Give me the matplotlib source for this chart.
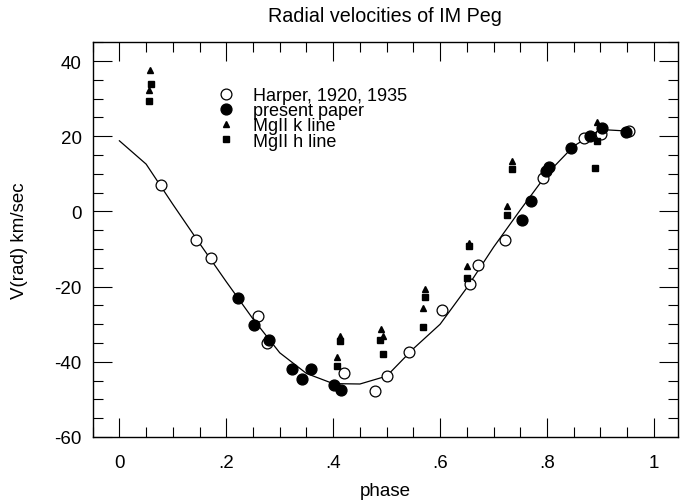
import matplotlib
matplotlib.use("Agg")
import matplotlib.pyplot as plt
from matplotlib.ticker import MultipleLocator, FixedLocator, FixedFormatter

plt.rcParams['font.family'] = ['Liberation Sans', 'DejaVu Sans']
plt.rcParams['axes.unicode_minus'] = False

# Harper, 1920, 1935 (open circles)
harper_phase = [0.078, 0.143, 0.172, 0.259, 0.277, 0.420, 0.479, 0.500, 0.542,
                0.603, 0.655, 0.671, 0.721, 0.793, 0.869, 0.901, 0.954]
harper_v = [7.0, -7.6, -12.3, -27.8, -35.0, -42.9, -47.8, -43.9, -37.3,
            -26.1, -19.4, -14.3, -7.6, 8.9, 19.5, 20.6, 21.3]

# present paper (filled circles)
present_phase = [0.221, 0.252, 0.280, 0.322, 0.359, 0.342, 0.401, 0.414,
                 0.753, 0.770, 0.798, 0.803, 0.845, 0.880, 0.903, 0.947]
present_v = [-23.0, -30.3, -34.1, -41.8, -41.8, -44.7, -46.2, -47.4,
             -2.3, 2.7, 10.8, 11.7, 16.9, 20.1, 22.2, 21.2]

# MgII k line (triangles)
mgk_phase = [0.057, 0.055, 0.412, 0.408, 0.490, 0.493, 0.572, 0.568,
             0.654, 0.651, 0.735, 0.726, 0.893]
mgk_v = [37.7, 32.4, -33.2, -38.8, -31.2, -33.2, -20.7, -25.8,
         -8.5, -14.5, 13.5, 1.5, 23.7]

# MgII h line (squares)
mgh_phase = [0.059, 0.055, 0.412, 0.408, 0.488, 0.493, 0.572, 0.568,
             0.654, 0.651, 0.735, 0.726, 0.893, 0.889]
mgh_v = [33.8, 29.5, -34.5, -41.0, -34.2, -37.9, -22.8, -30.8,
         -9.2, -17.8, 11.3, -1.0, 18.7, 11.5]

# fitted curve
curve_phase = [0.00, 0.05, 0.10, 0.15, 0.20, 0.25, 0.30, 0.35, 0.40, 0.45,
               0.50, 0.55, 0.60, 0.65, 0.70, 0.75, 0.80, 0.85, 0.90, 0.95]
curve_v = [18.8, 12.6, 1.9, -8.5, -18.7, -28.6, -37.6, -43.1, -45.8, -45.9,
           -43.8, -36.5, -30.0, -20.3, -9.5, 0.4, 10.0, 17.4, 21.8, 21.4]

xtick_vals = [0, 0.2, 0.4, 0.6, 0.8, 1.0]
xtick_labels = ["0", ".2", ".4", ".6", ".8", "1"]
ytick_vals = [-60, -40, -20, 0, 20, 40]
ytick_labels = ["-60", "-40", "-20", "0", "20", "40"]

fig = plt.figure(figsize=(6.89, 5.02), dpi=100)
ax = fig.add_axes([0.1345, 0.1275, 0.8495, 0.7862])

ax.plot(curve_phase, curve_v, color='black', lw=0.9, zorder=1)
ax.plot(harper_phase, harper_v, 'o', ms=7.8, mfc='white', mec='black', mew=0.9,
        ls='none', label='Harper, 1920, 1935', zorder=2)
ax.plot(present_phase, present_v, 'o', ms=7.8, mfc='black', mec='black',
        ls='none', label='present paper', zorder=3)
ax.plot(mgk_phase, mgk_v, '^', ms=4.5, color='black', ls='none',
        label='MgII k line', zorder=4)
ax.plot(mgh_phase, mgh_v, 's', ms=4.2, color='black', ls='none',
        label='MgII h line', zorder=4)

ax.set_xlim(-0.05, 1.045)
ax.set_ylim(-60, 45)

ax.xaxis.set_major_locator(FixedLocator(xtick_vals))
ax.xaxis.set_major_formatter(FixedFormatter(xtick_labels))
ax.xaxis.set_minor_locator(MultipleLocator(0.05))
ax.yaxis.set_major_locator(FixedLocator(ytick_vals))
ax.yaxis.set_major_formatter(FixedFormatter(ytick_labels))
ax.yaxis.set_minor_locator(MultipleLocator(5))

ax.tick_params(which='both', direction='in', top=True, right=True,
               labelsize=13.5, width=0.8)
ax.tick_params(which='major', length=14)
ax.tick_params(axis='x', which='major', pad=12)
ax.tick_params(axis='y', which='major', pad=8)
ax.tick_params(which='minor', length=7)
for s in ax.spines.values():
    s.set_linewidth(1.0)

ax.set_title('Radial velocities of IM Peg', fontsize=14.2, pad=15)
ax.set_xlabel('phase', fontsize=13.5, labelpad=8)
ax.set_ylabel('V(rad) km/sec', fontsize=13.5, labelpad=19)

leg = ax.legend(loc='upper left', bbox_to_anchor=(0.2125, 0.887), frameon=False,
                fontsize=13, labelspacing=-0.1, handletextpad=1.0,
                handlelength=1.0, borderpad=0, borderaxespad=0)

fig.savefig('out.png', dpi=100)
